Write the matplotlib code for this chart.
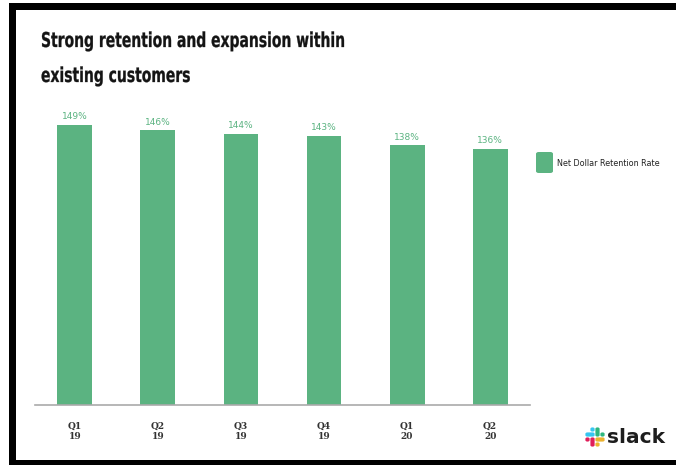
import matplotlib
matplotlib.use('Agg')
import matplotlib.pyplot as plt
from matplotlib.font_manager import FontProperties
from matplotlib.patches import Rectangle, FancyBboxPatch, PathPatch
from matplotlib.textpath import TextPath
from matplotlib.transforms import Affine2D

# --- data ---
quarters = ["Q1\n19", "Q2\n19", "Q3\n19", "Q4\n19", "Q1\n20", "Q2\n20"]
retention = [149, 146, 144, 143, 138, 136]
series_name = "Net Dollar Retention Rate"
title_lines = ["Strong retention and expansion within", "existing customers"]

GREEN = "#5bb381"
W, H = 676, 465

fig = plt.figure(figsize=(W / 100, H / 100), dpi=100)
fig.patch.set_facecolor("white")

def px(x0, y0, x1, y1):
    # pixel box (top-left origin) -> figure fraction rect
    return [x0 / W, 1 - y1 / H, (x1 - x0) / W, (y1 - y0) / H]

# black frame round the slide
for box in [(9, 3, 16, 465), (9, 3, 676, 10), (9, 460, 676, 465)]:
    r = px(*box)
    fig.patches.append(Rectangle((r[0], r[1]), r[2], r[3], transform=fig.transFigure,
                                 facecolor="black", edgecolor="none"))

# title as narrow glyph outlines (squeezed horizontally)
fp = FontProperties(family="DejaVu Sans", stretch="condensed", weight="bold")
em = 20.5
first = TextPath((0, 0), title_lines[0], size=em, prop=fp)
sx = 302 / first.get_extents().width
for line, base in zip(title_lines, [47, 82]):
    tp = TextPath((0, 0), line, size=em, prop=fp)
    tr = Affine2D().scale(sx, 1).translate(41, H - base)
    fig.add_artist(PathPatch(tp, transform=tr, facecolor="#141414",
                             edgecolor="#141414", linewidth=0.2))

ax = fig.add_axes(px(35, 104, 530, 405))
x = range(len(quarters))
bars = ax.bar(x, retention, width=0.42, color=GREEN)
for b, v in zip(bars, retention):
    ax.text(b.get_x() + b.get_width() / 2, v + 2, f"{v}%", ha="center", va="bottom",
            fontsize=6.5, color=GREEN)

ax.set_xlim(-0.48, 5.48)
ax.set_ylim(0, 160)
ax.set_yticks([])
ax.set_xticks(list(x))
ax.set_xticklabels(quarters, fontsize=6.5, fontweight="bold", color="#333333",
                   family="DejaVu Serif", linespacing=1.2)
ax.tick_params(axis="x", length=0, pad=12)
for s in ["top", "right", "left"]:
    ax.spines[s].set_visible(False)
ax.spines["bottom"].set_color("#aaaaaa")
ax.spines["bottom"].set_linewidth(1.2)

# legend swatch + label
r = px(536, 152, 553, 173)
fig.patches.append(FancyBboxPatch((r[0], r[1]), r[2], r[3], transform=fig.transFigure,
                                  boxstyle="round,pad=0,rounding_size=0.004",
                                  facecolor=GREEN, edgecolor="none"))
fig.text(557 / W, 1 - 163 / H, series_name, fontsize=5.8, color="#222222",
         va="center", ha="left")

# slack mark: pinwheel of pills on a 4x4 grid
cell, ox, oy = 5, 585, 427
marks = [
    (0, 1, 2, 1, "#36c5f0"), (1, 0, 1, 1, "#36c5f0"),
    (2, 0, 1, 2, "#2eb67d"), (3, 1, 1, 1, "#2eb67d"),
    (2, 2, 2, 1, "#ecb22e"), (2, 3, 1, 1, "#ecb22e"),
    (1, 2, 1, 2, "#e01e5a"), (0, 2, 1, 1, "#e01e5a"),
]
for gx, gy, gw, gh, c in marks:
    x0, y0 = ox + gx * cell + 0.4, oy + gy * cell + 0.4
    r = px(x0, y0, x0 + gw * cell - 0.8, y0 + gh * cell - 0.8)
    fig.patches.append(FancyBboxPatch((r[0], r[1]), r[2], r[3], transform=fig.transFigure,
                                      boxstyle="round,pad=0,rounding_size=0.003",
                                      facecolor=c, edgecolor="none"))
fig.text(607 / W, 1 - 437 / H, "slack", fontsize=14.5, fontweight="bold",
         color="#1d1d1d", va="center", ha="left")

fig.savefig("out.png", dpi=100)
